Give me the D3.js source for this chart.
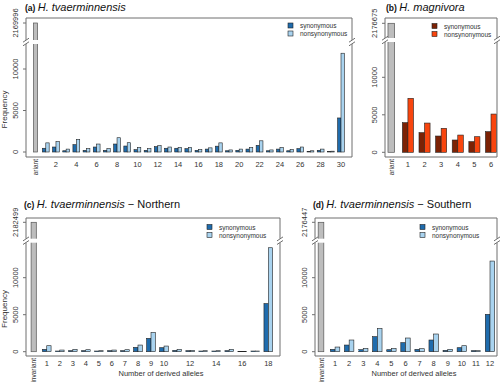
<!DOCTYPE html>
<html><head><meta charset="utf-8">
<script src="https://cdn.jsdelivr.net/npm/d3@7"></script>
<style>body{margin:0;background:#fff}svg{display:block;font-family:"Liberation Sans",Arial,sans-serif}</style>
</head><body><svg id="c" width="500" height="382"></svg>
<script>
// ---------- DATA ----------
const catsA = ["invariant","1","2","3","4","5","6","7","8","9","10","11","12","13","14","15","16","17","18","19","20","21","22","23","24","25","26","27","28","29","30"];
const synA  = [450,600,150,880,200,600,200,960,720,280,200,640,450,450,400,200,350,700,150,200,350,800,150,350,150,400,80,200,60,4100];
const nonA  = [1100,1250,350,1530,400,960,400,1720,1120,560,400,760,600,560,550,300,500,1100,250,350,550,1350,250,550,300,600,150,350,100,11900];
const invA  = 2169996;
const ticksA = ["invariant","2","4","6","8","10","12","14","16","18","20","22","24","26","28","30"];

const catsB = ["invariant","1","2","3","4","5","6"];
const synB  = [3950,2620,2170,1640,1420,2750];
const nonB  = [7200,3900,3200,2300,2080,5100];
const invB  = 2176675;
const ticksB = ["invariant","1","2","3","4","5","6"];

const catsC = ["invariant","1","2","3","4","5","6","7","8","9","10","11","12","13","14","15","16","17","18"];
const synC  = [315,90,135,135,90,135,135,585,1800,540,180,135,90,90,135,45,90,6500];
const nonC  = [810,225,315,270,135,225,270,900,2600,765,315,180,135,135,315,45,90,14050];
const invC  = 2182499;
const ticksC = ["invariant","1","2","3","4","5","6","7","8","9","10","12","14","16","18"];

const catsD = ["invariant","1","2","3","4","5","6","7","8","9","10","11","12"];
const synD  = [315,900,270,2030,270,1220,315,1580,180,540,135,5050];
const nonD  = [630,1580,450,3150,450,1850,405,2390,315,810,135,12250];
const invD  = 2176447;
const ticksD = ["invariant","1","2","3","4","5","6","7","8","9","10","11","12"];

const yTickVals = [0,5000,10000];
const seriesNames = ["synonymous","nonsynonymous"];
const blues = ["#1f6cad","#a9d3ef"];
const reds  = ["#7c2205","#f8450e"];
const invColor = "#bdbdbd";

// ---------- LAYOUT ----------
const panels = [
 {cats:catsA, syn:synA, non:nonA, inv:invA, ticks:ticksA, col:blues, tag:"(a)", it:"H. tvaerminnensis", rest:"",
  L:26, R:352, T:18, B:157, y0:152, y10k:69, yTop:23, yBrk:42, cx:[35.6,341], ylab:true, xlab:false,
  leg:[288,26], clipB:175, titleX:25, titleY:11},
 {cats:catsB, syn:synB, non:nonB, inv:invB, ticks:ticksB, col:reds, tag:"(b)", it:"H. magnivora", rest:"",
  L:385, R:497, T:18, B:157, y0:152.3, y10k:77.3, yTop:23.3, yBrk:40, cx:[391.3,491], ylab:false, xlab:false,
  leg:[432,26.5], clipB:175, titleX:386, titleY:11},
 {cats:catsC, syn:synC, non:nonC, inv:invC, ticks:ticksC, col:blues, tag:"(c)", it:"H. tvaerminnensis", rest:" − Northern",
  L:26, R:280, T:218, B:356, y0:351.7, y10k:277.7, yTop:222.3, yBrk:240.7, cx:[33.7,268.3], ylab:true, xlab:true,
  leg:[207,227.5], clipB:382, titleX:24, titleY:208},
 {cats:catsD, syn:synD, non:nonD, inv:invD, ticks:ticksD, col:blues, tag:"(d)", it:"H. tvaerminnensis", rest:" − Southern",
  L:315, R:497, T:218, B:356, y0:351.7, y10k:277.7, yTop:222.3, yBrk:240.7, cx:[321,490], ylab:false, xlab:true,
  leg:[420,227.5], clipB:382, titleX:313, titleY:208}
];

const svg = d3.select("#c");
const lineCol = "#6e6e6e", txtCol = "#333";

panels.forEach((p,i) => {
  const clipId = "clip"+i;
  svg.append("clipPath").attr("id",clipId).append("rect")
     .attr("x",0).attr("y",p.T-20).attr("width",500).attr("height",p.clipB-(p.T-20));
  const g = svg.append("g").attr("clip-path",`url(#${clipId})`);

  // y scale with a gap
  const ppu = (p.y0-p.y10k)/10000;
  const gapLo = (p.y0-p.yBrk)/ppu;
  const invEff = (p.y0-p.yTop)/ppu;
  const gapHi = p.inv-(invEff-gapLo);
  const y = d3.scaleLinear().domain([0,gapLo,gapHi,p.inv]).range([p.y0,p.yBrk,p.yBrk,p.yTop]);

  const x = d3.scalePoint().domain(p.cats).range(p.cx);
  const bw = x.step()/3;
  const nums = p.cats.slice(1);

  // invariant bar
  g.append("rect").attr("x",x("invariant")-bw*0.6).attr("width",bw*1.2)
    .attr("y",y(p.inv)).attr("height",y(0)-y(p.inv))
    .attr("fill",invColor).attr("stroke","#555").attr("stroke-width",0.7);
  // bars
  [p.syn,p.non].forEach((vals,s)=>{
    g.selectAll(null).data(nums).enter().append("rect")
      .attr("x",c=>x(c)-bw+s*bw).attr("width",bw)
      .attr("y",(c,j)=>y(vals[j])).attr("height",(c,j)=>y(0)-y(vals[j]))
      .attr("fill",p.col[s]).attr("stroke","#222").attr("stroke-width",0.6);
  });
  // gap in bars
  g.append("rect").attr("x",p.L+1).attr("width",p.R-p.L-2).attr("y",p.yBrk-2).attr("height",4).attr("fill","#fff");

  // box with gaps
  const bx = g.append("g").attr("stroke",lineCol).attr("stroke-width",1).attr("fill","none");
  bx.append("line").attr("x1",p.L).attr("x2",p.R).attr("y1",p.T).attr("y2",p.T);
  bx.append("line").attr("x1",p.L).attr("x2",p.R).attr("y1",p.B).attr("y2",p.B);
  [p.L,p.R].forEach(xx=>{
    bx.append("line").attr("x1",xx).attr("x2",xx).attr("y1",p.T).attr("y2",p.yBrk-2);
    bx.append("line").attr("x1",xx).attr("x2",xx).attr("y1",p.yBrk+2).attr("y2",p.B);
    [-1.8,1.8].forEach(o=>{
      bx.append("line").attr("x1",xx-3).attr("x2",xx+3).attr("y1",p.yBrk+o+2).attr("y2",p.yBrk+o-2);
    });
  });
  // y ticks
  const yt = yTickVals.concat([p.inv]);
  yt.forEach(v=>{
    g.append("line").attr("x1",p.L-3).attr("x2",p.L).attr("y1",y(v)).attr("y2",y(v)).attr("stroke",lineCol);
    g.append("text").attr("transform",`translate(${p.L-8.5},${y(v)}) rotate(-90)`)
      .attr("text-anchor","middle").attr("font-size",7.5).attr("fill",txtCol).text(v);
  });
  if(p.ylab){
    g.append("text").attr("transform",`translate(${p.L-19},${(p.y0+p.yTop)/2+22}) rotate(-90)`)
      .attr("text-anchor","middle").attr("font-size",8).attr("fill",txtCol).text("Frequency");
  }
  // x tick labels
  p.ticks.forEach(t=>{
    if(t==="invariant"){
      g.append("text").attr("transform",`translate(${x(t)+2.5},${p.B+2}) rotate(-90)`)
        .attr("text-anchor","end").attr("font-size",6.5).attr("fill",txtCol).text(t);
    } else {
      g.append("text").attr("x",x(t)).attr("y",p.B+10).attr("text-anchor","middle")
        .attr("font-size",7.5).attr("fill",txtCol).text(t);
    }
  });
  if(p.xlab){
    g.append("text").attr("x",(p.L+p.R)/2+8).attr("y",p.B+19.5).attr("text-anchor","middle")
      .attr("font-size",7.5).attr("fill",txtCol).text("Number of derived alleles");
  }
  // legend
  seriesNames.forEach((n,s)=>{
    g.append("rect").attr("x",p.leg[0]).attr("y",p.leg[1]+s*8-3).attr("width",5).attr("height",5)
      .attr("fill",p.col[s]).attr("stroke","#222").attr("stroke-width",0.6);
    g.append("text").attr("x",p.leg[0]+12).attr("y",p.leg[1]+s*8+2).attr("font-size",6.5)
      .attr("fill",txtCol).text(n);
  });
  // title
  const tt = svg.append("text").attr("x",p.titleX).attr("y",p.titleY).attr("fill","#111");
  tt.append("tspan").attr("font-weight","bold").attr("font-size",8.5).text(p.tag+" ");
  tt.append("tspan").attr("font-style","italic").attr("font-size",11).text(p.it);
  if(p.rest) tt.append("tspan").attr("font-size",11).text(p.rest);
});
</script></body></html>
